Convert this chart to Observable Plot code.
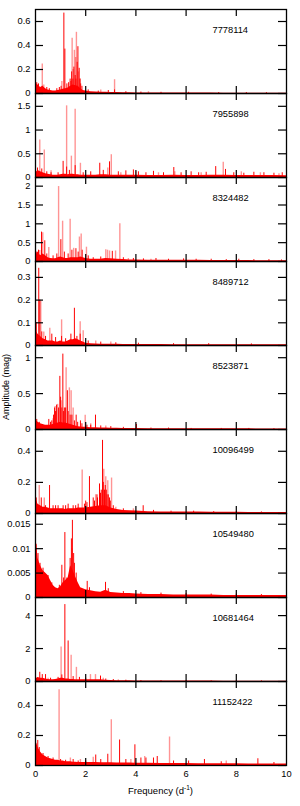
<!DOCTYPE html>
<html><head><meta charset="utf-8">
<script src="https://cdn.jsdelivr.net/npm/d3@7"></script>
<script src="https://cdn.jsdelivr.net/npm/@observablehq/plot@0.6"></script>
<style>
body{margin:0;background:#fff;}
#c{position:relative;width:300px;height:806px;overflow:hidden;font-family:"Liberation Sans",Arial,sans-serif;color:#000;}
.p{position:absolute;left:0;}
#xt{position:absolute;left:0;width:321px;text-align:center;top:784px;font-size:9.5px;}
#xt sup{font-size:6.5px;}
#yt{position:absolute;left:-39.5px;top:382px;width:90px;height:10px;line-height:10px;text-align:center;font-size:9px;transform:rotate(-90deg);transform-origin:center;white-space:nowrap;}
</style></head><body><div id="c"><div id="yt">Amplitude (mag)</div><div id="xt">Frequency (d<sup>-1</sup>)</div></div>
<script>
// ---- data ----
const stars = ["7778114","7955898","8324482","8489712","8523871","10096499","10549480","10681464","11152422"];
const yMax = [0.70, 1.77, 2.23, 0.37, 1.17, 0.54, 0.0172, 5.1, 0.56];
const yTicks = [[0,0.2,0.4,0.6],[0,0.5,1,1.5],[0,0.5,1,1.5,2],[0,0.1,0.2,0.3],[0,0.5,1],[0,0.2,0.4],[0,0.005,0.01,0.015],[0,2,4],[0,0.2,0.4]];
const xTicks = [2,4,6,8];
const xLabels = [0,2,4,6,8,10];
const freqGrid = [0,0.05,0.1,0.2,0.3,0.4,0.5,0.6,0.7,0.8,0.9,1.0,1.1,1.2,1.3,1.4,1.5,1.6,1.7,1.8,1.9,2.0,2.2,2.4,2.6,2.8,3.0,3.25,3.5,3.75,4,4.5,5,5.5,6,6.5,7,7.5,8,8.5,9,9.5,10];

const noise7778114 = [0.06,0.08,0.07,0.05,0.06,0.04,0.03,0.025,0.02,0.02,0.025,0.03,0.035,0.04,0.045,0.06,0.07,0.065,0.06,0.04,0.025,0.02,0.015,0.012,0.01,0.01,0.008,0.008,0.006,0.006,0.005,0.005,0.004,0.004,0.004,0.004,0.004,0.003,0.003,0.003,0.003,0.003,0.003];
const noise7955898 = [0.08,0.12,0.15,0.12,0.10,0.08,0.07,0.06,0.05,0.05,0.05,0.06,0.07,0.07,0.06,0.07,0.07,0.06,0.06,0.05,0.05,0.05,0.05,0.05,0.06,0.06,0.05,0.05,0.045,0.045,0.045,0.04,0.04,0.045,0.04,0.04,0.045,0.045,0.04,0.04,0.04,0.04,0.035];
const noise8324482 = [0.1,0.2,0.25,0.15,0.2,0.15,0.1,0.08,0.07,0.07,0.1,0.12,0.1,0.08,0.08,0.1,0.1,0.1,0.1,0.12,0.1,0.08,0.06,0.06,0.06,0.08,0.07,0.06,0.05,0.04,0.04,0.035,0.03,0.03,0.03,0.03,0.025,0.025,0.025,0.025,0.02,0.02,0.02];
const noise8489712 = [0.05,0.06,0.05,0.04,0.03,0.025,0.02,0.02,0.02,0.015,0.015,0.02,0.015,0.015,0.02,0.025,0.025,0.03,0.025,0.02,0.015,0.01,0.008,0.007,0.006,0.006,0.005,0.005,0.004,0.004,0.004,0.004,0.004,0.003,0.003,0.003,0.003,0.003,0.003,0.003,0.003,0.003,0.003];
const noise8523871 = [0.1,0.12,0.1,0.08,0.07,0.06,0.06,0.06,0.07,0.08,0.09,0.1,0.09,0.09,0.08,0.07,0.06,0.05,0.04,0.035,0.03,0.03,0.025,0.025,0.02,0.02,0.018,0.016,0.015,0.014,0.013,0.012,0.011,0.011,0.01,0.01,0.01,0.009,0.009,0.009,0.008,0.008,0.008];
const noise10096499 = [0.07,0.08,0.06,0.05,0.04,0.04,0.035,0.03,0.03,0.03,0.03,0.03,0.03,0.025,0.03,0.03,0.03,0.03,0.035,0.035,0.035,0.035,0.04,0.045,0.05,0.05,0.035,0.025,0.02,0.018,0.016,0.012,0.01,0.01,0.009,0.009,0.008,0.008,0.008,0.007,0.007,0.007,0.007];
const noise10549480 = [0.009,0.011,0.008,0.0065,0.0055,0.005,0.0045,0.0035,0.0025,0.002,0.0018,0.0022,0.003,0.0035,0.004,0.0065,0.0055,0.0042,0.003,0.002,0.0018,0.0016,0.0014,0.0012,0.0011,0.0015,0.001,0.0009,0.0008,0.0008,0.0007,0.0006,0.0006,0.0005,0.0005,0.0005,0.0005,0.0004,0.0004,0.0004,0.0004,0.0004,0.0004];
const noise10681464 = [0.15,0.2,0.25,0.2,0.2,0.15,0.12,0.1,0.1,0.12,0.15,0.2,0.2,0.15,0.15,0.12,0.12,0.1,0.1,0.1,0.1,0.1,0.1,0.1,0.1,0.08,0.06,0.05,0.04,0.04,0.035,0.03,0.03,0.03,0.025,0.025,0.025,0.02,0.02,0.02,0.02,0.02,0.02];
const noise11152422 = [0.12,0.15,0.12,0.09,0.07,0.06,0.05,0.045,0.04,0.035,0.035,0.03,0.03,0.025,0.025,0.025,0.022,0.022,0.02,0.02,0.02,0.02,0.02,0.02,0.018,0.018,0.018,0.017,0.016,0.016,0.015,0.015,0.014,0.013,0.013,0.012,0.012,0.011,0.011,0.01,0.01,0.01,0.01];

const solid7778114 = [[0.05,0.09],[0.12,0.08],[0.27,0.06],[0.45,0.05],[0.55,0.04],[0.85,0.04],[0.95,0.05],[1.02,0.06],[1.13,0.67],[1.17,0.37],[1.25,0.08],[1.32,0.09],[1.38,0.12],[1.41,0.1],[1.44,0.18],[1.49,0.12],[1.53,0.22],[1.58,0.15],[1.61,0.12],[1.66,0.26],[1.69,0.39],[1.74,0.21],[1.77,0.12],[1.80,0.08],[1.85,0.06],[2.1,0.03],[2.5,0.02],[2.9,0.025],[3.15,0.03],[3.6,0.015],[4.2,0.012],[5.0,0.01],[6.1,0.01],[7.3,0.008],[8.4,0.008],[9.2,0.007]];
const light7778114 = [[0.27,0.245],[0.33,0.07],[1.05,0.1],[1.46,0.46],[1.50,0.2],[1.55,0.36],[1.60,0.3],[1.63,0.51],[1.71,0.18],[1.78,0.12],[2.6,0.03],[3.15,0.115],[4.5,0.015]];
const solid7955898 = [[0.08,0.2],[0.25,0.18],[0.45,0.12],[0.62,0.1],[0.9,0.1],[1.10,0.34],[1.24,0.22],[1.35,0.15],[1.58,0.25],[1.9,0.1],[2.2,0.12],[2.56,0.3],[2.7,0.15],[2.95,0.33],[3.3,0.12],[3.6,0.14],[3.9,0.16],[4.1,0.12],[4.4,0.1],[4.7,0.13],[5.1,0.1],[5.51,0.21],[5.8,0.1],[6.2,0.12],[6.5,0.1],[6.8,0.11],[7.18,0.23],[7.57,0.17],[7.9,0.1],[8.3,0.09],[8.7,0.11],[9.1,0.1],[9.5,0.09],[9.83,0.1]];
const light7955898 = [[0.17,0.79],[0.35,0.58],[0.62,0.14],[1.24,1.51],[1.43,0.45],[1.58,1.44],[1.79,0.3],[2.88,0.2],[3.02,0.48],[3.4,0.1],[4.0,0.12],[4.9,0.1],[5.55,0.12],[6.6,0.1],[7.48,0.32],[8.2,0.12],[8.96,0.1],[9.7,0.08]];
const solid8324482 = [[0.05,0.25],[0.12,0.3],[0.24,0.78],[0.37,0.55],[0.45,0.2],[0.7,0.15],[0.85,0.2],[1.01,0.58],[1.15,0.25],[1.3,0.2],[1.45,0.3],[1.61,0.34],[1.70,0.25],[1.86,0.3],[2.1,0.15],[2.3,0.1],[2.6,0.12],[3.06,0.27],[3.5,0.1],[3.9,0.08],[4.3,0.07],[4.8,0.08],[5.3,0.06],[5.9,0.07],[6.4,0.06],[7.0,0.06],[7.6,0.05],[8.1,0.06],[8.7,0.05],[9.3,0.05],[9.8,0.04]];
const light8324482 = [[0.17,0.29],[0.29,0.76],[0.53,0.37],[0.92,1.99],[1.08,1.07],[1.38,1.12],[1.52,0.35],[1.75,0.65],[1.82,0.73],[2.03,0.38],[2.8,0.31],[2.87,0.3],[2.95,0.28],[3.19,0.28],[3.36,1.0],[3.7,0.08],[4.6,0.06]];
const solid8489712 = [[0.03,0.1],[0.13,0.34],[0.17,0.2],[0.25,0.06],[0.4,0.04],[0.65,0.05],[0.8,0.035],[1.04,0.04],[1.2,0.03],[1.41,0.05],[1.55,0.164],[1.65,0.04],[1.78,0.05],[2.1,0.02],[2.6,0.015],[3.2,0.012],[4.1,0.01],[5.5,0.008],[6.9,0.008],[8.6,0.007]];
const light8489712 = [[0.21,0.196],[0.33,0.06],[0.57,0.076],[1.04,0.113],[1.78,0.105],[1.90,0.065],[2.4,0.02],[3.0,0.015]];
const solid8523871 = [[0.05,0.14],[0.15,0.1],[0.53,0.14],[0.6,0.1],[0.65,0.12],[0.72,0.2],[0.76,0.3],[0.8,0.25],[0.84,0.34],[0.92,0.3],[0.97,0.74],[1.0,0.45],[1.05,0.3],[1.09,1.05],[1.12,0.25],[1.15,0.3],[1.2,0.3],[1.27,0.54],[1.3,0.25],[1.38,0.2],[1.45,0.2],[1.55,0.12],[1.62,0.2],[1.68,0.1],[1.79,0.12],[1.85,0.08],[2.05,0.06],[2.2,0.06],[2.39,0.2],[2.6,0.05],[3.0,0.04],[3.5,0.03],[4.02,0.07],[4.6,0.02],[5.3,0.02],[6.2,0.015],[7.4,0.015],[8.5,0.015],[9.5,0.012]];
const light8523871 = [[0.70,0.15],[0.78,0.32],[0.88,0.35],[1.02,0.4],[1.22,0.86],[1.35,0.58],[1.42,0.54],[1.50,0.3],[1.98,0.2],[2.2,0.08],[2.8,0.05]];
const solid10096499 = [[0.03,0.1],[0.23,0.1],[0.4,0.05],[0.56,0.18],[0.7,0.05],[0.8,0.05],[0.9,0.05],[1.1,0.05],[1.2,0.05],[1.3,0.06],[1.5,0.05],[1.6,0.05],[1.7,0.06],[1.95,0.06],[2.0,0.08],[2.05,0.07],[2.15,0.237],[2.3,0.1],[2.35,0.08],[2.45,0.12],[2.47,0.1],[2.55,0.19],[2.59,0.13],[2.62,0.15],[2.67,0.47],[2.7,0.2],[2.75,0.15],[2.78,0.18],[2.82,0.15],[2.85,0.12],[2.9,0.12],[2.95,0.1],[2.98,0.08],[3.1,0.05],[3.5,0.03],[4.29,0.05],[4.7,0.02],[5.4,0.015],[6.3,0.015],[7.1,0.012],[8.0,0.012],[9.0,0.01]];
const light10096499 = [[0.15,0.18],[0.35,0.1],[1.86,0.28],[2.40,0.12],[2.72,0.285],[2.80,0.237],[2.88,0.21],[3.03,0.228],[3.2,0.04],[3.9,0.03]];
const solid10549480 = [[0.02,0.0109],[0.1,0.009],[0.18,0.007],[0.3,0.006],[0.5,0.0045],[0.65,0.003],[0.95,0.0025],[1.05,0.0066],[1.12,0.004],[1.17,0.0133],[1.25,0.004],[1.31,0.0033],[1.38,0.008],[1.43,0.012],[1.47,0.0158],[1.52,0.009],[1.55,0.007],[1.62,0.005],[2.06,0.0033],[2.15,0.002],[2.79,0.0031],[2.9,0.0018],[3.5,0.0012],[4.2,0.001],[5.0,0.0009],[6.0,0.0008],[7.0,0.0007],[8.0,0.0007],[9.0,0.0006]];
const light10549480 = [[0.08,0.006],[1.45,0.01]];
const solid10681464 = [[0.17,0.56],[0.27,0.42],[0.4,0.42],[0.6,0.2],[0.9,0.25],[1.05,0.4],[1.17,4.67],[1.30,2.46],[1.5,0.3],[1.75,0.25],[2.0,0.2],[2.59,0.33],[2.8,0.15],[3.1,0.12],[3.6,0.08],[4.2,0.06],[5.0,0.05],[6.0,0.05],[7.0,0.04],[8.0,0.04],[9.0,0.04]];
const light10681464 = [[0.5,0.2],[1.02,2.1],[1.42,1.6],[1.63,0.86],[2.19,0.42],[2.39,0.42],[2.7,0.2],[3.3,0.1]];
const solid11152422 = [[0.09,0.167],[0.15,0.12],[0.3,0.08],[0.5,0.06],[0.7,0.05],[1.0,0.04],[1.2,0.035],[1.5,0.04],[1.7,0.03],[2.0,0.03],[2.40,0.07],[2.6,0.04],[2.88,0.075],[3.35,0.17],[3.6,0.04],[3.96,0.138],[4.2,0.05],[4.4,0.05],[4.7,0.05],[4.85,0.06],[5.5,0.03],[6.1,0.03],[6.73,0.04],[7.4,0.025],[8.0,0.03],[8.86,0.045],[9.5,0.02]];
const light11152422 = [[0.94,0.505],[1.39,0.05],[1.79,0.04],[2.3,0.055],[3.02,0.305],[3.8,0.04],[4.35,0.06],[5.34,0.19],[7.6,0.03]];

const noiseLevels = [noise7778114,noise7955898,noise8324482,noise8489712,noise8523871,noise10096499,noise10549480,noise10681464,noise11152422];
const solidPeaks = [solid7778114,solid7955898,solid8324482,solid8489712,solid8523871,solid10096499,solid10549480,solid10681464,solid11152422];
const lightPeaks = [light7778114,light7955898,light8324482,light8489712,light8523871,light10096499,light10549480,light10681464,light11152422];

// ---- layout ----
const W = 300, ML = 35, MR = 14, PH = 84, PW = W - ML - MR, M = 4, TOP0 = 9.3;
const FONT = '"Liberation Sans", Arial, sans-serif';
const c = document.getElementById("c");

stars.forEach((name, i) => {
  const last = i === stars.length - 1;
  const noise = freqGrid.map((f, j) => ({f, a: noiseLevels[i][j]}));
  const solid = solidPeaks[i].map(([f, a]) => ({f, a}));
  const light = lightPeaks[i].map(([f, a]) => ({f, a}));
  const svg = Plot.plot({
    width: W, height: PH + 2 * M,
    marginLeft: ML, marginRight: MR, marginTop: M, marginBottom: M,
    x: {domain: [0, 10], axis: null},
    y: {domain: [0, yMax[i]], axis: null},
    style: {overflow: "visible", background: "transparent", fontFamily: FONT, fontSize: "9.3px", color: "black"},
    marks: [
      Plot.areaY(noise, {x: "f", y: "a", fill: "red"}),
      Plot.ruleX(light, {x: "f", y1: 0, y2: "a", stroke: "red", strokeOpacity: 0.42, strokeWidth: 1.4}),
      Plot.ruleX(solid, {x: "f", y1: 0, y2: "a", stroke: "red", strokeWidth: 1}),
      Plot.ruleY(yTicks[i], {y: d => d, insetRight: PW - 8, stroke: "black", strokeWidth: 1.2}),
      Plot.ruleY(yTicks[i], {y: d => d, insetLeft: PW - 8, stroke: "black", strokeWidth: 1.2}),
      Plot.ruleX(xTicks, {x: d => d, insetBottom: PH - 7, stroke: "black", strokeWidth: 1.2}),
      Plot.ruleX(xTicks, {x: d => d, insetTop: PH - 7, stroke: "black", strokeWidth: 1.2}),
      Plot.frame({stroke: "black", strokeWidth: 1.3}),
      Plot.text(yTicks[i], {y: d => d, text: d => String(d), frameAnchor: "left", dx: -5, textAnchor: "end", fill: "black"}),
      Plot.text([name], {text: d => d, frameAnchor: "top-left", dx: 177, dy: 17, textAnchor: "start", fill: "black"}),
      last ? Plot.text(xLabels, {x: d => d, text: d => String(d), frameAnchor: "bottom", dy: 11, fill: "black"}) : null
    ]
  });
  svg.classList.add("p");
  svg.style.top = (TOP0 + i * PH - M) + "px";
  svg.style.position = "absolute";
  c.appendChild(svg);
});
</script></body></html>
